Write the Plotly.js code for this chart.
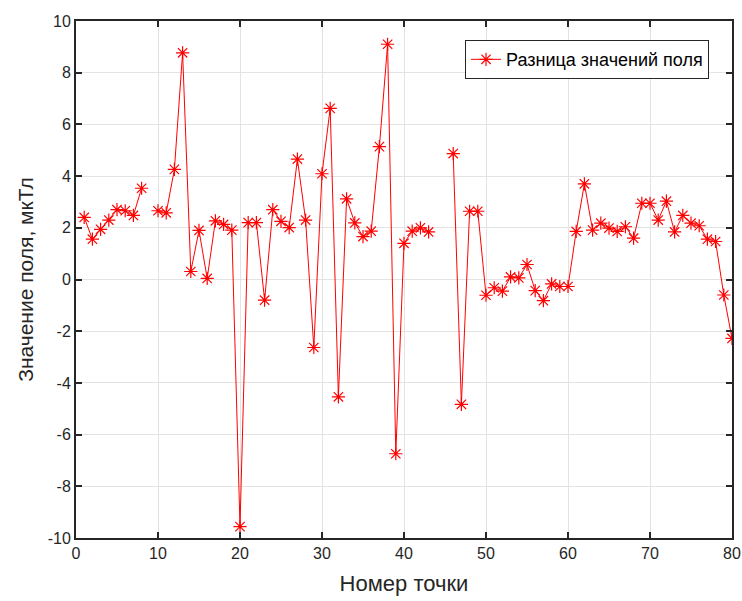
<!DOCTYPE html>
<html>
<head>
<meta charset="utf-8">
<script src="https://cdn.plot.ly/plotly-3.0.1.min.js"></script>
<style>html,body{margin:0;padding:0;background:#fff;}#plot{width:742px;height:601px;}</style>
</head>
<body>
<div id="plot"></div>
<script>
const pointNumbers = [];
for (let i = 1; i <= 80; i++) pointNumbers.push(i);
const fieldDiff = [
  2.40, 1.56, 1.94, 2.30, 2.70, 2.66, 2.48, 3.53, null, 2.66,
  2.58, 4.26, 8.77, 0.31, 1.90, 0.04, 2.27, 2.13, 1.91, -9.56,
  2.20, 2.20, -0.80, 2.70, 2.25, 2.01, 4.66, 2.30, -2.63, 4.09,
  6.62, -4.54, 3.12, 2.19, 1.66, 1.87, 5.14, 9.10, -6.74, 1.40,
  1.87, 2.00, 1.84, null, null, 4.87, -4.83, 2.64, 2.64, -0.61,
  -0.32, -0.45, 0.10, 0.06, 0.58, -0.43, -0.82, -0.17, -0.27, -0.27,
  1.86, 3.70, 1.91, 2.18, 1.99, 1.86, 2.04, 1.60, 2.95, 2.95,
  2.30, 3.03, 1.84, 2.48, 2.18, 2.08, 1.56, 1.47, -0.60, -2.28
];
const seriesName = 'Разница значений поля';
const xTitle = 'Номер точки';
const yTitle = 'Значение поля, мкТл';
const xTicks = [0, 10, 20, 30, 40, 50, 60, 70, 80];
const xTickText = ['0', '10', '20', '30', '40', '50', '60', '70', '80'];
const yTicks = [-10, -8, -6, -4, -2, 0, 2, 4, 6, 8, 10];
const yTickText = ['-10', '-8', '-6', '-4', '-2', '0', '2', '4', '6', '8', '10'];

const font = 'Arial, "Liberation Sans", sans-serif';
const trace = {
  x: pointNumbers, y: fieldDiff, name: seriesName,
  type: 'scatter', mode: 'lines+markers', connectgaps: false,
  line: {color: '#ff0000', width: 1},
  marker: {symbol: 'asterisk-open', size: 11, color: '#ff0000', line: {color: '#ff0000', width: 1.2}}
};
const axisBase = {
  showline: true, linecolor: '#262626', linewidth: 2, mirror: 'ticks',
  ticks: 'inside', ticklen: 6, tickwidth: 2, tickcolor: '#262626',
  showgrid: true, gridcolor: '#e3e3e3', gridwidth: 1, zeroline: false,
  ticklabeloverflow: 'allow',
  tickfont: {family: font, size: 16, color: '#262626'}
};
const layout = {
  width: 742, height: 601,
  margin: {l: 76, r: 10, t: 21, b: 63},
  paper_bgcolor: '#ffffff', plot_bgcolor: '#ffffff',
  showlegend: true,
  legend: {x: 0.965, y: 0.963, xanchor: 'right', yanchor: 'top',
    bordercolor: '#262626', borderwidth: 1, bgcolor: '#ffffff',
    font: {family: font, size: 18, color: '#000000'}},
  xaxis: Object.assign({}, axisBase, {range: [0, 80], tickvals: xTicks, ticktext: xTickText,
    title: {text: xTitle, font: {family: font, size: 22, color: '#262626'}, standoff: 14}}),
  yaxis: Object.assign({}, axisBase, {range: [-10, 10], tickvals: yTicks, ticktext: yTickText,
    title: {text: yTitle, font: {family: font, size: 21, color: '#262626'}, standoff: 8}})
};
Plotly.newPlot('plot', [trace], layout, {displayModeBar: false, staticPlot: true});
</script>
</body>
</html>
